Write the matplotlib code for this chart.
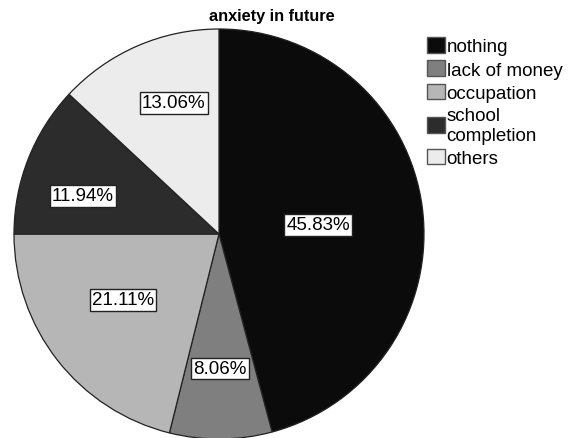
import numpy as np
import matplotlib.pyplot as plt

plt.rcParams['font.family'] = ['Liberation Sans', 'DejaVu Sans']

categories = ['nothing', 'lack of money', 'occupation', 'school\ncompletion', 'others']
shares = [45.83, 8.06, 21.11, 11.94, 13.06]
colors = ['#0b0b0b', '#7f7f7f', '#b6b6b6', '#2c2c2c', '#ececec']
# where each percentage box sits: fraction of radius, nudge off the mid angle (deg)
label_r = [0.485, 0.655, 0.568, 0.69, 0.676]
label_dtheta = [2.3, 0.0, 3.5, -5.9, 4.5]

W, H = 571, 439
fig = plt.figure(figsize=(W / 100, H / 100), dpi=100)

# pie centre and radius in pixels
cx, cy, R = 219, 235, 205
ax = fig.add_axes([(cx - R) / W, (H - cy - R) / H, 2 * R / W, 2 * R / H])

wedges, _ = ax.pie(shares, colors=colors, startangle=90, counterclock=False,
                   radius=1, wedgeprops=dict(edgecolor='#222222', linewidth=0.9))
ax.set_xlim(-1, 1)
ax.set_ylim(-1, 1)
ax.set_aspect('equal')
ax.axis('off')

total = sum(shares)
start = 0.0
for val, r, dt in zip(shares, label_r, label_dtheta):
    mid = (start + val / 2) / total * 360 + dt
    start += val
    theta = np.deg2rad(90 - mid)
    ax.text(r * np.cos(theta), r * np.sin(theta), f'{val:.2f}%',
            ha='center', va='center', fontsize=13.5,
            bbox=dict(boxstyle='square,pad=0.12', facecolor='white',
                      edgecolor='#222222', linewidth=1.0))

fig.text(272 / W, 1 - 16 / H, 'anxiety in future', ha='center', va='center',
         fontsize=11.7, fontweight='bold')

leg = fig.legend(wedges, categories, loc='upper left',
                 bbox_to_anchor=(427 / W, 1 - 38 / H), frameon=False,
                 fontsize=13.5, handlelength=0.95, handleheight=0.9,
                 handletextpad=0.1, labelspacing=0.27, borderaxespad=0,
                 borderpad=0)
for h in leg.legend_handles:
    h.set_edgecolor('#555555')
    h.set_linewidth(1.0)

fig.savefig('out.png', dpi=100)
